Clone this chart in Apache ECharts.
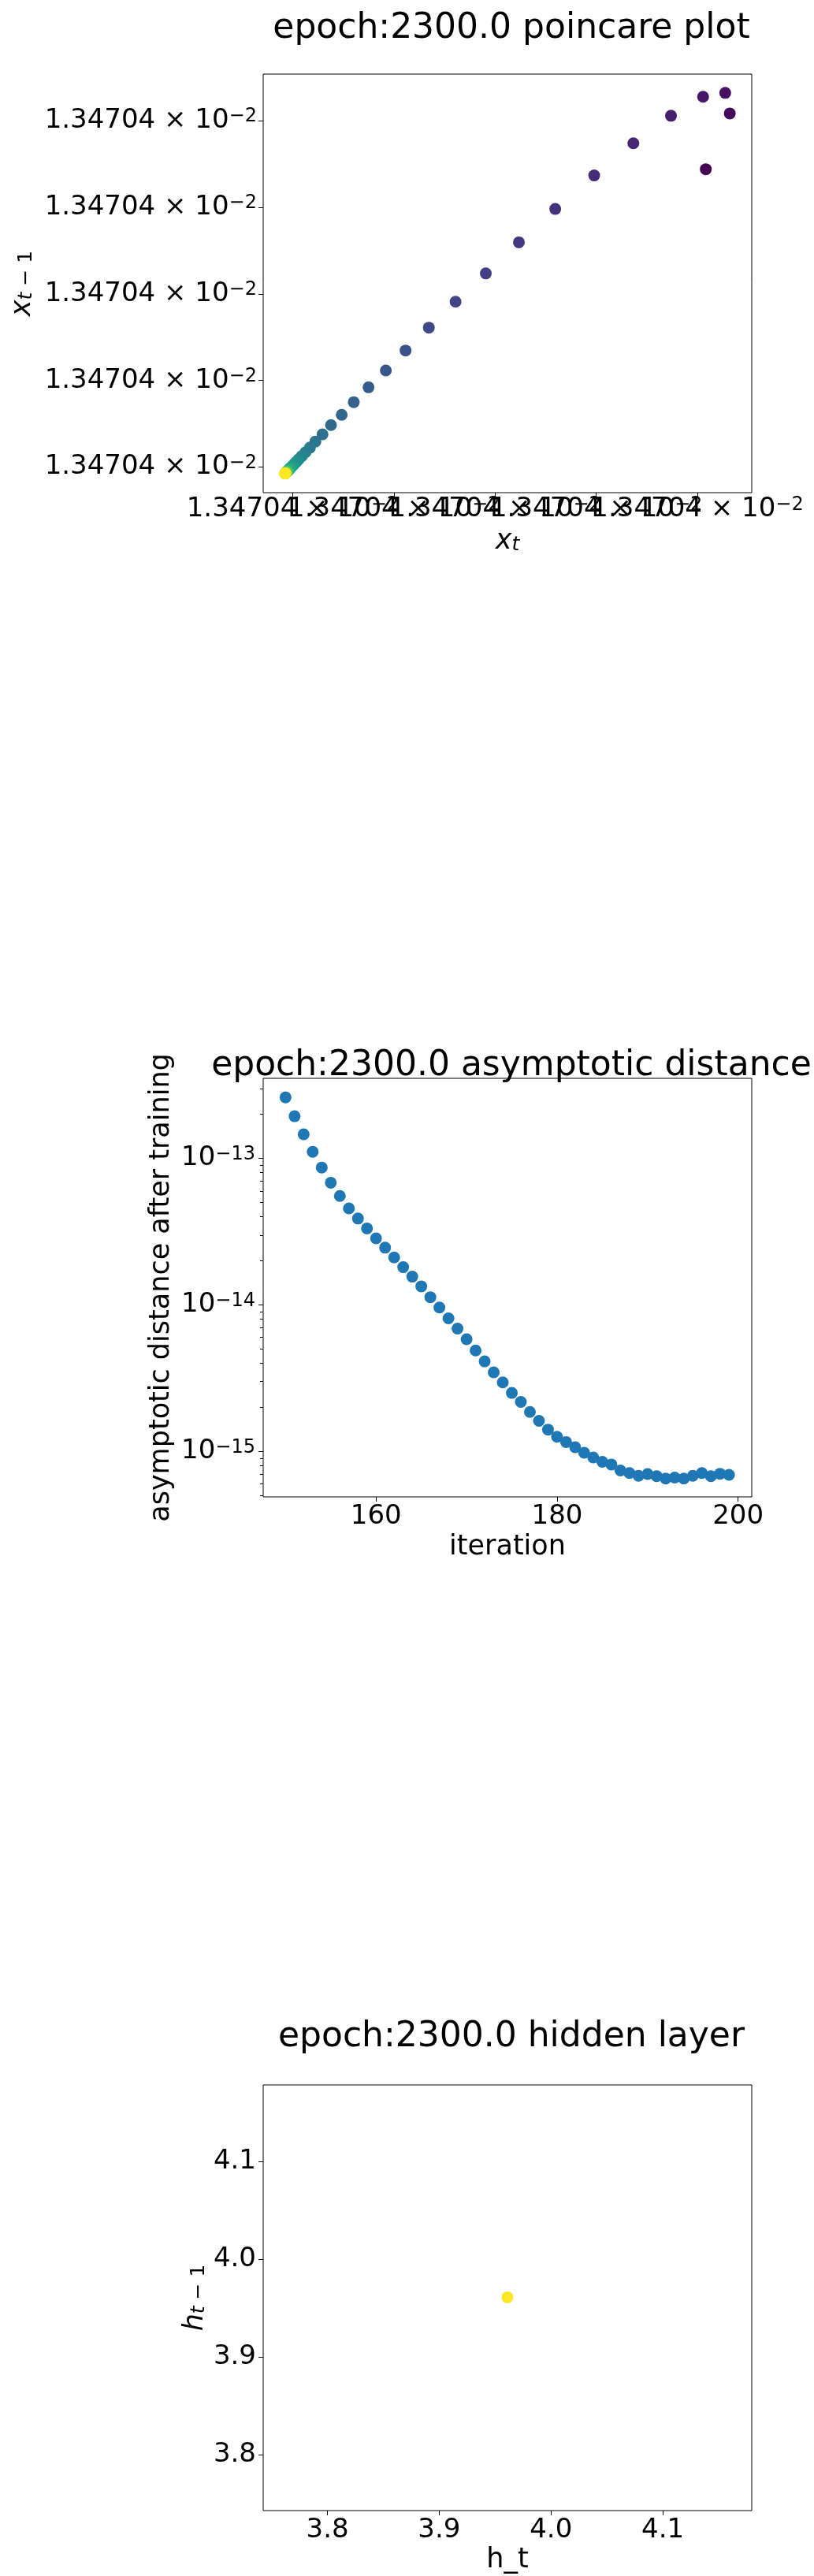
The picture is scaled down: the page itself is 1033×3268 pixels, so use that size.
<!DOCTYPE html>
<html>
<head>
<meta charset="utf-8">
<script src="https://cdn.jsdelivr.net/npm/echarts@6/dist/echarts.min.js"></script>
<style>
body{margin:0;background:#fff}
#chart{width:1033px;height:3268px}
</style>
</head>
<body>
<div id="chart"></div>
<script>
// poincare plot: sequence x_t, as offset from 1.34704e-2 in tick steps
var poincareSeq = [3.439, 4.083, 4.320, 4.275, 4.056, 3.739, 3.367, 2.980, 2.595, 2.236,
	1.909, 1.610, 1.346, 1.116, 0.921, 0.750, 0.604, 0.485, 0.379, 0.295,
	0.225, 0.171, 0.127, 0.091, 0.061, 0.037, 0.017, 0.001, -0.012, -0.023,
	-0.032, -0.040, -0.046, -0.051, -0.055, -0.058, -0.061, -0.063, -0.065, -0.067,
	-0.068, -0.069, -0.070, -0.071, -0.072, -0.072, -0.073, -0.073, -0.074, -0.074, -0.075];
var poincareTicks = [0, 1, 2, 3, 4];
var poincareTickMain = '1.34704 × 10';
var poincareTickExp = '−2';

// asymptotic distance
var distIter = [150,151,152,153,154,155,156,157,158,159,160,161,162,163,164,165,166,167,168,169,
	170,171,172,173,174,175,176,177,178,179,180,181,182,183,184,185,186,187,188,189,
	190,191,192,193,194,195,196,197,198,199];
var distValue = [2.61e-13,1.94e-13,1.46e-13,1.11e-13,8.67e-14,6.83e-14,5.54e-14,4.56e-14,3.89e-14,3.33e-14,
	2.85e-14,2.46e-14,2.11e-14,1.81e-14,1.56e-14,1.34e-14,1.13e-14,9.6e-15,8.1e-15,6.9e-15,
	5.83e-15,4.89e-15,4.12e-15,3.47e-15,2.96e-15,2.51e-15,2.18e-15,1.86e-15,1.62e-15,1.41e-15,
	1.26e-15,1.16e-15,1.07e-15,9.8e-16,9.1e-16,8.5e-16,8.15e-16,7.42e-16,7.13e-16,6.83e-16,
	7.02e-16,6.79e-16,6.53e-16,6.64e-16,6.53e-16,6.83e-16,7.13e-16,6.79e-16,7.05e-16,6.93e-16];
var distTicksX = [160, 180, 200];
var distTicksY = [1e-15, 1e-14, 1e-13];
var distMinorTicks = [5e-16,6e-16,7e-16,8e-16,9e-16,
	2e-15,3e-15,4e-15,5e-15,6e-15,7e-15,8e-15,9e-15,
	2e-14,3e-14,4e-14,5e-14,6e-14,7e-14,8e-14,9e-14,
	2e-13,3e-13];

// hidden layer
var hiddenPoint = [[3.961, 3.961]];
var hiddenTicks = [3.8, 3.9, 4.0, 4.1];

var viridis = ['#440154','#482475','#414487','#355f8d','#2a788e','#21918c','#22a884','#44bf70','#7ad151','#bddf26','#fde725'];

var poincarePts = [];
for (var t = 1; t < poincareSeq.length; t++) {
	poincarePts.push([poincareSeq[t], poincareSeq[t - 1], t - 1]);
}
var distPts = [];
for (var i = 0; i < distIter.length; i++) {
	distPts.push([distIter[i], distValue[i]]);
}

var FONT = 'DejaVu Sans';
var tickStyle = {fontFamily: FONT, fontSize: 34, color: '#000'};
var expRich = {
	m: {fontFamily: FONT, fontSize: 34, color: '#000'},
	s: {fontFamily: FONT, fontSize: 24, color: '#000', verticalAlign: 'top'}
};
var nameRich = {
	i: {fontFamily: FONT, fontSize: 35, fontStyle: 'italic', color: '#000'},
	s: {fontFamily: FONT, fontSize: 25, fontStyle: 'italic', color: '#000', verticalAlign: 'bottom'},
	u: {fontFamily: FONT, fontSize: 25, color: '#000', verticalAlign: 'bottom'}
};

function baseAxis(grid, min, max, ticks, margin) {
	return {
		type: 'value', gridIndex: grid, min: min, max: max, scale: true,
		axisLine: {show: false, onZero: false},
		splitLine: {show: false},
		axisTick: {show: true, inside: false, length: 6, customValues: ticks, lineStyle: {color: '#000', width: 1}},
		axisLabel: Object.assign({customValues: ticks, margin: margin, hideOverlap: false,
			showMinLabel: true, showMaxLabel: true}, tickStyle),
		nameMoveOverlap: false
	};
}
function poincareLabel() {
	return '{m|' + poincareTickMain + '}{s|' + poincareTickExp + '}';
}

var titleBase = {fontFamily: FONT, fontSize: 44, fontWeight: 'normal', color: '#000'};

var x0 = baseAxis(0, -0.291, 4.537, poincareTicks, 4);
x0.position = 'bottom';
x0.axisLabel.customValues = [poincareTicks[0], poincareTicks[3]];
x0.axisLabel.formatter = poincareLabel;
x0.axisLabel.rich = expRich;
x0.name = '{i|x}{s|t}';
x0.nameLocation = 'middle'; x0.nameGap = 44;
x0.nameTextStyle = {rich: nameRich};

// the overlapping x labels of the poincare plot are split over extra axes,
// otherwise echarts drops the ones that collide
var x0b = baseAxis(0, -0.291, 4.537, [poincareTicks[1], poincareTicks[4]], 4);
x0b.position = 'bottom'; x0b.offset = 0;
x0b.axisTick.show = false;
x0b.axisLabel.formatter = poincareLabel;
x0b.axisLabel.rich = expRich;

var x0c = baseAxis(0, -0.291, 4.537, [poincareTicks[2]], 4);
x0c.position = 'bottom'; x0c.offset = 0;
x0c.axisTick.show = false;
x0c.axisLabel.formatter = poincareLabel;
x0c.axisLabel.rich = expRich;

var y0 = baseAxis(0, -0.295, 4.537, poincareTicks, 8);
y0.position = 'left';
y0.axisLabel.formatter = poincareLabel;
y0.axisLabel.rich = expRich;
y0.name = '{i|x}{s|t}{u| − 1}';
y0.nameLocation = 'middle'; y0.nameGap = 288; y0.nameRotate = 90;
y0.nameTextStyle = {rich: nameRich};

var x1 = baseAxis(1, 147.53, 201.51, distTicksX, 8);
x1.position = 'bottom';
x1.name = 'iteration';
x1.nameLocation = 'middle'; x1.nameGap = 46;
x1.nameTextStyle = {fontFamily: FONT, fontSize: 35, color: '#000'};

var y1 = baseAxis(1, 4.9e-16, 3.52e-13, distTicksY, 10);
y1.type = 'log'; y1.logBase = 10; y1.position = 'left';
y1.axisLabel.formatter = function (v) {
	var e = Math.round(Math.log(v) / Math.LN10);
	return '{m|10}{s|−' + (-e) + '}';
};
y1.axisLabel.rich = expRich;
y1.name = 'asymptotic distance after training';
y1.nameLocation = 'middle'; y1.nameGap = 112; y1.nameRotate = 90;
y1.nameTextStyle = {fontFamily: FONT, fontSize: 35, color: '#000'};

// minor ticks of the log axis, drawn on an overlaid axis
var y1minor = baseAxis(1, 4.9e-16, 3.52e-13, distMinorTicks, 10);
y1minor.type = 'log'; y1minor.logBase = 10;
y1minor.position = 'left'; y1minor.offset = 0;
y1minor.axisTick.length = 4;
y1minor.axisLabel = {show: false};

var x2 = baseAxis(2, 3.7425, 4.1796, hiddenTicks, 8);
x2.position = 'bottom';
x2.axisLabel.formatter = function (v) { return v.toFixed(1); };
x2.name = 'h_t';
x2.nameLocation = 'middle'; x2.nameGap = 45;
x2.nameTextStyle = {fontFamily: FONT, fontSize: 35, color: '#000'};

var y2 = baseAxis(2, 3.743, 4.178, hiddenTicks, 9);
y2.position = 'left';
y2.axisLabel.formatter = x2.axisLabel.formatter;
y2.name = '{i|h}{s|t}{u| − 1}';
y2.nameLocation = 'middle'; y2.nameGap = 69; y2.nameRotate = 90;
y2.nameTextStyle = {rich: nameRich};

var gridBase = {left: 334, width: 620, show: true, borderColor: '#000', borderWidth: 1, backgroundColor: 'transparent', containLabel: false, outerBoundsMode: 'none'};

var chart = echarts.init(document.getElementById('chart'), null, {renderer: 'canvas'});
chart.setOption({
	animation: false,
	backgroundColor: '#fff',
	title: [
		{text: 'epoch:2300.0 poincare plot', left: 644, top: 10, textAlign: 'center', textStyle: titleBase},
		{text: 'epoch:2300.0 asymptotic distance', left: 644, top: 1326, textAlign: 'center', textStyle: titleBase},
		{text: 'epoch:2300.0 hidden layer', left: 644, top: 2558, textAlign: 'center', textStyle: titleBase}
	],
	grid: [
		Object.assign({top: 94, height: 531}, gridBase),
		Object.assign({top: 1368, height: 531}, gridBase),
		Object.assign({top: 2645, height: 540}, gridBase)
	],
	xAxis: [x0, x0b, x0c, x1, x2],
	yAxis: [y0, y1, y1minor, y2],
	visualMap: {
		type: 'continuous', show: false, seriesIndex: 0, dimension: 2,
		min: 0, max: poincarePts.length - 1,
		inRange: {color: viridis}
	},
	series: [
		{type: 'scatter', xAxisIndex: 0, yAxisIndex: 0, symbolSize: 15, data: poincarePts, itemStyle: {opacity: 1}},
		{type: 'scatter', xAxisIndex: 3, yAxisIndex: 1, symbolSize: 15, data: distPts, itemStyle: {color: '#1f77b4', opacity: 1}},
		{type: 'scatter', xAxisIndex: 4, yAxisIndex: 3, symbolSize: 15, data: hiddenPoint, itemStyle: {color: '#fde725', opacity: 1}}
	]
});
</script>
</body>
</html>
